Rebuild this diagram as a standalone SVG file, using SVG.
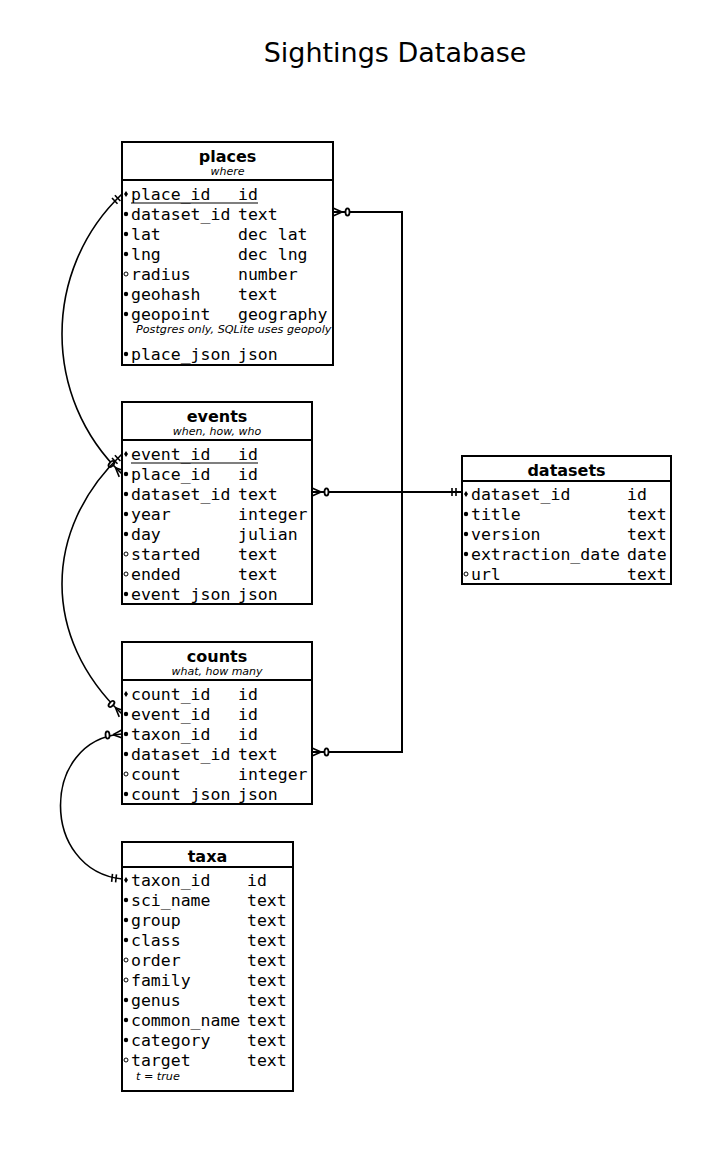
<svg xmlns="http://www.w3.org/2000/svg" xmlns:xlink="http://www.w3.org/1999/xlink" width="723" height="1166" viewBox="0 0 723 1166">
<style>
.tb{fill:#fff;stroke:#000;stroke-width:2}
.dv{stroke:#000;stroke-width:2}
.ttl{font-family:"DejaVu Sans",sans-serif;font-weight:bold;font-size:16px;text-anchor:middle;fill:#000}
.sub{font-family:"DejaVu Sans",sans-serif;font-style:italic;font-size:11px;text-anchor:middle;fill:#000}
.note{font-family:"DejaVu Sans",sans-serif;font-style:italic;font-size:11.2px;fill:#000}
.f{font-family:"DejaVu Sans Mono",monospace;font-size:16.5px;fill:#000}
.ul{stroke:#000;stroke-width:1.2}
.req{fill:#000}
.opt{fill:#fff;stroke:#000;stroke-width:1}
.pk{fill:#000}
.edge{fill:none;stroke:#000;stroke-width:2}
.arc{fill:none;stroke:#000;stroke-width:1.6}
.main{font-family:"DejaVu Sans",sans-serif;font-size:27px;text-anchor:middle;fill:#000}
</style>
<defs>
<circle id="br" class="req" r="2.2"/>
<circle id="bo" class="opt" r="2"/>
<path id="bk" class="pk" d="M0,-3 L2,0 L0,3 L-2,0Z"/>
<marker id="many" markerUnits="userSpaceOnUse" viewBox="-20 -8 22 16" refX="0" refY="0" markerWidth="22" markerHeight="16" orient="auto-start-reverse" overflow="visible">
<path d="M-9,0 L0,-4 M-9,0 L0,4" fill="none" stroke="#000" stroke-width="1.6"/>
<ellipse cx="-14.5" cy="0" rx="2" ry="3.6" fill="#fff" stroke="#000" stroke-width="1.8"/>
</marker>
<marker id="one" markerUnits="userSpaceOnUse" viewBox="-20 -8 22 16" refX="0" refY="0" markerWidth="22" markerHeight="16" orient="auto-start-reverse" overflow="visible">
<path d="M-6,-4 L-6,4 M-10,-4 L-10,4" fill="none" stroke="#000" stroke-width="1.6"/>
</marker>
</defs>
<rect width="723" height="1166" fill="#fff"/>
<text class="main" x="395" y="62">Sightings Database</text>

<g id="connectors">
<path class="edge" d="M333,212 H402 V492" marker-start="url(#many)"/>
<path class="edge" d="M312,752 H402 V492" marker-start="url(#many)"/>
<path class="edge" d="M312,492 H462" marker-start="url(#many)" marker-end="url(#one)"/>
<path class="arc" d="M122,194 C42,270 42,398 122,474" marker-start="url(#one)" marker-end="url(#many)"/>
<path class="arc" d="M122,454 C42,530 42,638 122,714" marker-start="url(#one)" marker-end="url(#many)"/>
<path class="arc" d="M122,879 C40,870 40,740 122,734" marker-start="url(#one)" marker-end="url(#many)"/>
</g>

<g id="places">
<rect class="tb" x="122" y="142" width="211" height="223"/>
<line class="dv" x1="122" y1="180" x2="333" y2="180"/>
<text class="ttl" x="227.5" y="162">places</text>
<text class="sub" x="227.5" y="175">where</text>
<use xlink:href="#bk" x="126" y="194"/><text class="f" x="131" y="200">place_id</text><text class="f" x="238" y="200">id</text>
<line class="ul" x1="131" y1="203" x2="258" y2="203"/>
<use xlink:href="#br" x="126" y="214"/><text class="f" x="131" y="220">dataset_id</text><text class="f" x="238" y="220">text</text>
<use xlink:href="#br" x="126" y="234"/><text class="f" x="131" y="240">lat</text><text class="f" x="238" y="240">dec lat</text>
<use xlink:href="#br" x="126" y="254"/><text class="f" x="131" y="260">lng</text><text class="f" x="238" y="260">dec lng</text>
<use xlink:href="#bo" x="126" y="274"/><text class="f" x="131" y="280">radius</text><text class="f" x="238" y="280">number</text>
<use xlink:href="#br" x="126" y="294"/><text class="f" x="131" y="300">geohash</text><text class="f" x="238" y="300">text</text>
<use xlink:href="#br" x="126" y="314"/><text class="f" x="131" y="320">geopoint</text><text class="f" x="238" y="320">geography</text>
<text class="note" x="136" y="333">Postgres only, SQLite uses geopoly</text>
<use xlink:href="#br" x="126" y="354"/><text class="f" x="131" y="360">place_json</text><text class="f" x="238" y="360">json</text>
</g>

<g id="events">
<rect class="tb" x="122" y="402" width="190" height="202"/>
<line class="dv" x1="122" y1="440" x2="312" y2="440"/>
<text class="ttl" x="217" y="422">events</text>
<text class="sub" x="217" y="435">when, how, who</text>
<use xlink:href="#bk" x="126" y="454"/><text class="f" x="131" y="460">event_id</text><text class="f" x="238" y="460">id</text>
<line class="ul" x1="131" y1="463" x2="258" y2="463"/>
<use xlink:href="#br" x="126" y="474"/><text class="f" x="131" y="480">place_id</text><text class="f" x="238" y="480">id</text>
<use xlink:href="#br" x="126" y="494"/><text class="f" x="131" y="500">dataset_id</text><text class="f" x="238" y="500">text</text>
<use xlink:href="#br" x="126" y="514"/><text class="f" x="131" y="520">year</text><text class="f" x="238" y="520">integer</text>
<use xlink:href="#br" x="126" y="534"/><text class="f" x="131" y="540">day</text><text class="f" x="238" y="540">julian</text>
<use xlink:href="#bo" x="126" y="554"/><text class="f" x="131" y="560">started</text><text class="f" x="238" y="560">text</text>
<use xlink:href="#bo" x="126" y="574"/><text class="f" x="131" y="580">ended</text><text class="f" x="238" y="580">text</text>
<use xlink:href="#br" x="126" y="594"/><text class="f" x="131" y="600">event_json</text><text class="f" x="238" y="600">json</text>
</g>

<g id="counts">
<rect class="tb" x="122" y="642" width="190" height="162"/>
<line class="dv" x1="122" y1="680" x2="312" y2="680"/>
<text class="ttl" x="217" y="662">counts</text>
<text class="sub" x="217" y="675">what, how many</text>
<use xlink:href="#bk" x="126" y="694"/><text class="f" x="131" y="700">count_id</text><text class="f" x="238" y="700">id</text>
<use xlink:href="#br" x="126" y="714"/><text class="f" x="131" y="720">event_id</text><text class="f" x="238" y="720">id</text>
<use xlink:href="#br" x="126" y="734"/><text class="f" x="131" y="740">taxon_id</text><text class="f" x="238" y="740">id</text>
<use xlink:href="#br" x="126" y="754"/><text class="f" x="131" y="760">dataset_id</text><text class="f" x="238" y="760">text</text>
<use xlink:href="#bo" x="126" y="774"/><text class="f" x="131" y="780">count</text><text class="f" x="238" y="780">integer</text>
<use xlink:href="#br" x="126" y="794"/><text class="f" x="131" y="800">count_json</text><text class="f" x="238" y="800">json</text>
</g>

<g id="taxa">
<rect class="tb" x="122" y="842" width="171" height="249"/>
<line class="dv" x1="122" y1="867" x2="293" y2="867"/>
<text class="ttl" x="207.5" y="862">taxa</text>
<use xlink:href="#bk" x="126" y="880"/><text class="f" x="131" y="886">taxon_id</text><text class="f" x="247" y="886">id</text>
<use xlink:href="#br" x="126" y="900"/><text class="f" x="131" y="906">sci_name</text><text class="f" x="247" y="906">text</text>
<use xlink:href="#br" x="126" y="920"/><text class="f" x="131" y="926">group</text><text class="f" x="247" y="926">text</text>
<use xlink:href="#br" x="126" y="940"/><text class="f" x="131" y="946">class</text><text class="f" x="247" y="946">text</text>
<use xlink:href="#bo" x="126" y="960"/><text class="f" x="131" y="966">order</text><text class="f" x="247" y="966">text</text>
<use xlink:href="#bo" x="126" y="980"/><text class="f" x="131" y="986">family</text><text class="f" x="247" y="986">text</text>
<use xlink:href="#br" x="126" y="1000"/><text class="f" x="131" y="1006">genus</text><text class="f" x="247" y="1006">text</text>
<use xlink:href="#br" x="126" y="1020"/><text class="f" x="131" y="1026">common_name</text><text class="f" x="247" y="1026">text</text>
<use xlink:href="#br" x="126" y="1040"/><text class="f" x="131" y="1046">category</text><text class="f" x="247" y="1046">text</text>
<use xlink:href="#bo" x="126" y="1060"/><text class="f" x="131" y="1066">target</text><text class="f" x="247" y="1066">text</text>
<text class="note" x="136" y="1080">t = true</text>
</g>

<g id="datasets">
<rect class="tb" x="462" y="456" width="209" height="128"/>
<line class="dv" x1="462" y1="481" x2="671" y2="481"/>
<text class="ttl" x="566.5" y="476">datasets</text>
<use xlink:href="#bk" x="466" y="494"/><text class="f" x="471" y="500">dataset_id</text><text class="f" x="627" y="500">id</text>
<use xlink:href="#br" x="466" y="514"/><text class="f" x="471" y="520">title</text><text class="f" x="627" y="520">text</text>
<use xlink:href="#br" x="466" y="534"/><text class="f" x="471" y="540">version</text><text class="f" x="627" y="540">text</text>
<use xlink:href="#br" x="466" y="554"/><text class="f" x="471" y="560">extraction_date</text><text class="f" x="627" y="560">date</text>
<use xlink:href="#bo" x="466" y="574"/><text class="f" x="471" y="580">url</text><text class="f" x="627" y="580">text</text>
</g>
</svg>
